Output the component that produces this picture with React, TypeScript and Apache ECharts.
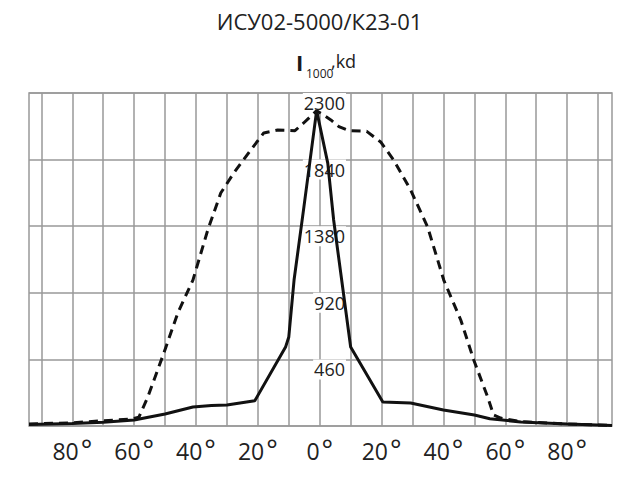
import React, { useEffect, useRef } from "react";
import * as echarts from "echarts";

const title = "ИСУ02-5000/К23-01";
const yName = { main: "I", sub: "1000", unit: ",kd" };

const xLabelValues = [-80, -60, -40, -20, 0, 20, 40, 60, 80];
const xGridValues = [-90, -80, -70, -60, -50, -40, -30, -20, -10, 0, 10, 20, 30, 40, 50, 60, 70, 80, 90];
const yTicks = [0, 460, 920, 1380, 1840, 2300];

// [angle in degrees, intensity kd]
const solidCurve: [number, number][] = [
  [-94, 10], [-80, 18], [-70, 26], [-60, 41], [-50, 83], [-41, 131], [-35, 141], [-30, 145],
  [-21, 174], [-11, 548], [-10, 615], [-8.3, 1008], [-5.1, 1515], [-1, 2178], [2.6, 1816],
  [4.5, 1423], [7.4, 960], [10, 546], [20.4, 166], [29.4, 159], [40, 110], [50, 76],
  [55, 50], [65, 28], [80, 14], [94.5, 4],
];

const dashedCurve: [number, number][] = [
  [-94, 14], [-81, 21], [-71, 35], [-61, 48], [-58.5, 60], [-55.6, 200], [-50.4, 504],
  [-45.9, 780], [-41, 1008], [-36.2, 1354], [-32, 1609], [-27.8, 1747], [-22.3, 1906],
  [-18.1, 2024], [-13.6, 2044], [-8, 2040], [-5.2, 2093], [-1, 2178], [3.6, 2114],
  [6.2, 2068], [9.5, 2040], [15.2, 2035], [19.7, 1962], [23.9, 1837], [29.4, 1630],
  [34.9, 1374], [40.1, 1008], [45.6, 732], [49.8, 456], [54.3, 200], [56.2, 76],
  [58.5, 55], [65, 30], [80, 14], [94.5, 4],
];

export default function App() {
  const ref = useRef<HTMLDivElement>(null);
  useEffect(() => {
    if (!ref.current) return;
    const chart = echarts.init(ref.current, null, { renderer: "svg" });
    const font = "'Open Sans', 'Noto Sans', sans-serif";
    chart.setOption({
      animation: false,
      backgroundColor: "#fff",
      textStyle: { fontFamily: font },
      grid: {
        left: 29,
        right: 27,
        top: 93,
        bottom: 57,
        show: true,
        borderColor: "#999",
        borderWidth: 1.5,
        backgroundColor: "transparent",
      },
      graphic: [
        {
          type: "text",
          left: "center",
          top: 10,
          style: { text: title, fontSize: 22, fill: "#222", fontFamily: font },
        },
        {
          type: "text",
          x: 296,
          y: 62,
          style: {
            text: yName.main,
            fontSize: 22,
            fontWeight: "bold",
            fill: "#1a1a1a",
            fontFamily: font,
            verticalAlign: "middle",
          },
        },
        {
          type: "text",
          x: 306,
          y: 73,
          style: {
            text: yName.sub,
            fontSize: 12,
            fill: "#222",
            fontFamily: font,
            verticalAlign: "middle",
          },
        },
        {
          type: "text",
          x: 331,
          y: 61,
          style: {
            text: yName.unit,
            fontSize: 18,
            fill: "#222",
            fontFamily: font,
            verticalAlign: "middle",
          },
        },
      ],
      xAxis: {
        type: "value",
        min: -94,
        max: 94.5,
        axisLine: { show: false },
        axisTick: { show: false, customValues: xGridValues },
        splitLine: { show: true, lineStyle: { color: "#999", width: 1.5 } },
        axisLabel: {
          customValues: xLabelValues,
          formatter: (v: number) => "{n|" + Math.abs(v) + "}{d|°}",
          margin: 10,
          rich: {
            n: { fontSize: 23, color: "#222", fontFamily: font },
            d: { fontSize: 27, color: "#222", fontFamily: font, padding: [0, 0, 2, 2] },
          },
        },
      },
      yAxis: {
        type: "value",
        min: yTicks[0],
        max: yTicks[yTicks.length - 1],
        interval: yTicks[1] - yTicks[0],
        offset: -317,
        axisLine: { show: false },
        axisTick: { show: false },
        splitLine: { show: true, lineStyle: { color: "#999", width: 1.5 } },
        axisLabel: {
          showMinLabel: false,
          margin: 0,
          fontSize: 18,
          color: "#222",
          verticalAlign: "top",
          lineHeight: 20,
          backgroundColor: "#fff",
          padding: [0, 1, 0, 1],
          fontFamily: font,
          formatter: (v: number) => (v === 0 ? "" : String(v)),
        },
      },
      series: [
        {
          type: "line",
          data: dashedCurve,
          symbol: "none",
          lineStyle: { color: "#111", width: 3, type: [9, 6] },
          z: 3,
        },
        {
          type: "line",
          data: solidCurve,
          symbol: "none",
          lineStyle: { color: "#111", width: 3 },
          z: 4,
        },
      ],
    });
    return () => chart.dispose();
  }, []);
  return (
    <div
      ref={ref}
      style={{ position: "fixed", left: 0, top: 0, width: 639, height: 483 }}
    />
  );
}
